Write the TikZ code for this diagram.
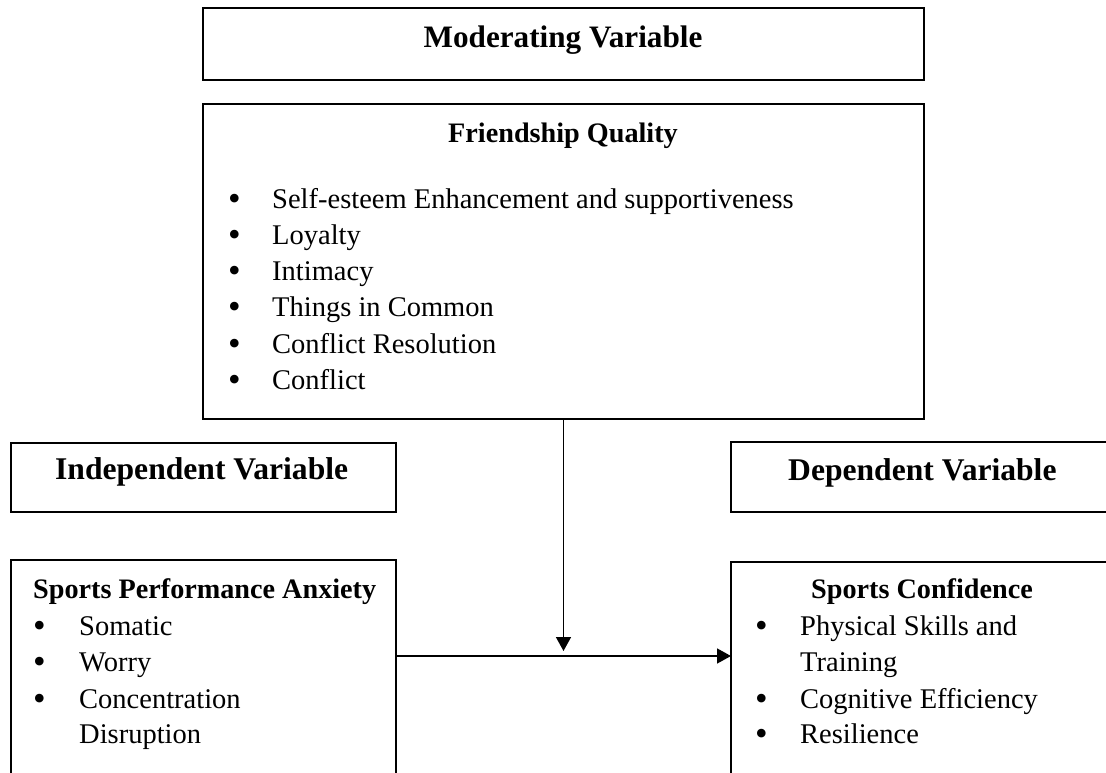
\documentclass[tikz,border=0pt]{standalone}
\usepackage{fontspec}
\setmainfont{Liberation Serif}
\usetikzlibrary{arrows.meta}
\tikzset{
 box/.style={draw, line width=1.7pt, anchor=north west, inner sep=0pt, outer sep=0pt},
 txt/.style={anchor=base west, inner sep=0pt, font=\fontsize{28.5}{34}\selectfont},
 ttl/.style={anchor=base west, inner sep=0pt, font=\fontsize{28.2}{32}\selectfont\bfseries},
 big/.style={anchor=base west, inner sep=0pt, font=\fontsize{31.6}{36}\selectfont\bfseries},
 bul/.style={anchor=base west, inner sep=0pt, yshift=-2.5pt, font=\fontsize{36}{40}\selectfont},
 arr/.style={line width=1.5pt, -{Triangle[length=14pt,width=15pt]}},
}
\begin{document}
\begin{tikzpicture}[x=1pt,y=-1pt]
\path[use as bounding box] (0,0) rectangle (1106,773);
\clip (0,0) rectangle (1106,773);
% boxes
\node[box, minimum width=721pt, minimum height=72pt] (mod) at (203,8) {};
\node[box, minimum width=721pt, minimum height=315pt] (fq) at (203,104) {};
\node[box, minimum width=385pt, minimum height=69pt] (iv) at (11,443) {};
\node[box, minimum width=400pt, minimum height=70pt] (dv) at (731,442) {};
\node[box, minimum width=385pt, minimum height=260pt] (spa) at (11,560) {};
\node[box, minimum width=400pt, minimum height=260pt] (sc) at (731,562) {};
% texts
\node[big, anchor=base, font=\fontsize{31.2}{36}\selectfont\bfseries] (modT) at (563,48) {Moderating Variable};
\node[ttl, anchor=base] (fqT) at (563,143) {Friendship Quality};
\foreach \y/\t [count=\i] in {208/Self-esteem Enhancement and supportiveness,244/Loyalty,280/Intimacy,316/Things in Common,353/Conflict Resolution,389/Conflict}{
  \node[bul] (fqB\i) at (228,\y) {•};
  \node[txt] (fqI\i) at (272,\y) {\t};
}
\node[big] (ivT) at (55,479) {Independent Variable};
\node[big] (dvT) at (788,480) {Dependent Variable};
\node[ttl] (spaT) at (33,598) {Sports Performance Anxiety};
\node[bul] (spaB1) at (33,635) {•};
\node[txt] (spaI1) at (79,635) {Somatic};
\node[bul] (spaB2) at (33,671) {•};
\node[txt] (spaI2) at (79,671) {Worry};
\node[bul] (spaB3) at (33,708) {•};
\node[txt] (spaI3) at (79,708) {Concentration};
\node[txt] (spaI4) at (79,743) {Disruption};
\node[ttl] (scT) at (811,598) {Sports Confidence};
\node[bul] (scB1) at (755,635) {•};
\node[txt] (scI1) at (800,635) {Physical Skills and};
\node[txt] (scI2) at (800,671) {Training};
\node[bul] (scB3) at (755,708) {•};
\node[txt] (scI3) at (800,708) {Cognitive Efficiency};
\node[bul] (scB4) at (755,743) {•};
\node[txt] (scI4) at (800,743) {Resilience};
% connectors
\coordinate (tip) at (563,651);
\coordinate (hy) at (0,656);
\draw[arr] (fq.south) -- (fq.south |- tip);
\draw[arr] (spa.east |- hy) -- (sc.west |- hy);
\end{tikzpicture}
\end{document}
